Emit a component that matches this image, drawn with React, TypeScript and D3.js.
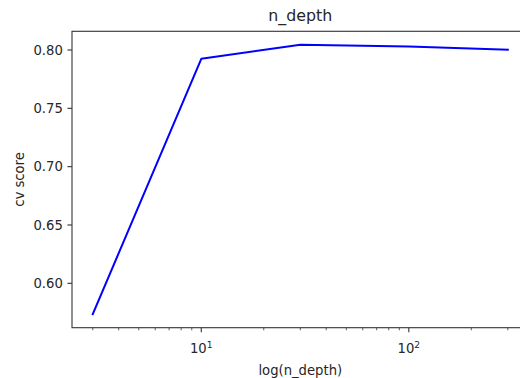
import React from "react";
import * as d3 from "d3";

const depths = [3, 10, 30, 100, 300];
const cvScores = [0.5735, 0.7925, 0.8045, 0.803, 0.8002];
const yTicks = [0.6, 0.65, 0.7, 0.75, 0.8];
const xMajorTicks = [10, 100];
const xMajorExp = ["1", "2"];
const title = "n_depth";
const xLabel = "log(n_depth)";
const yLabel = "cv score";

const W = 520;
const H = 378;
const left = 72;
const right = 528.6;
const top = 31.3;
const bottom = 327.7;
const FONT = "DejaVu Sans, sans-serif";
const TXT = "#262626";

export default function App() {
  const lmin = Math.log10(d3.min(depths)!);
  const lmax = Math.log10(d3.max(depths)!);
  const lm = (lmax - lmin) * 0.05;
  const x = d3
    .scaleLog()
    .domain([Math.pow(10, lmin - lm), Math.pow(10, lmax + lm)])
    .range([left, right]);
  const ymin = d3.min(cvScores)!;
  const ymax = d3.max(cvScores)!;
  const ym = (ymax - ymin) * 0.05;
  const y = d3
    .scaleLinear()
    .domain([ymin - ym, ymax + ym])
    .range([bottom, top]);

  const [d0, d1] = x.domain();
  const minor: number[] = [];
  for (let e = Math.floor(Math.log10(d0)); e <= Math.ceil(Math.log10(d1)); e++) {
    for (let m = 2; m <= 9; m++) {
      const v = m * Math.pow(10, e);
      if (v >= d0 && v <= d1) minor.push(v);
    }
  }

  const line = d3
    .line<number>()
    .x((_, i) => x(depths[i]))
    .y((d) => y(d));

  return (
    <svg
      width={W}
      height={H}
      style={{ position: "absolute", left: 0, top: 0, background: "#fff" }}
      fontFamily={FONT}
    >
      <rect x={0} y={0} width={W} height={H} fill="#fff" />
      <path
        d={line(cvScores) || ""}
        fill="none"
        stroke="#0000ff"
        strokeWidth={2}
        strokeLinejoin="round"
        strokeLinecap="square"
      />
      {/* spines */}
      <rect
        x={left}
        y={top}
        width={right - left}
        height={bottom - top}
        fill="none"
        stroke="#333"
        strokeWidth={1.1}
      />
      {/* y ticks */}
      {yTicks.map((t) => (
        <g key={t}>
          <line x1={left - 4.6} x2={left} y1={y(t)} y2={y(t)} stroke="#333" strokeWidth={1.1} />
          <text
            x={left - 9.2}
            y={y(t) + 4.75}
            textAnchor="end"
            fontSize={13.2}
            fill={TXT}
          >
            {t.toFixed(2)}
          </text>
        </g>
      ))}
      {/* x minor ticks */}
      {minor.map((t) => (
        <line
          key={t}
          x1={x(t)}
          x2={x(t)}
          y1={bottom}
          y2={bottom + 2.6}
          stroke="#333"
          strokeWidth={0.8}
        />
      ))}
      {/* x major ticks */}
      {xMajorTicks.map((t, i) => (
        <g key={t}>
          <line x1={x(t)} x2={x(t)} y1={bottom} y2={bottom + 4.6} stroke="#333" strokeWidth={1.1} />
          <text x={x(t)} y={352.7} textAnchor="middle" fontSize={13.2} fill={TXT}>
            10
            <tspan fontSize={9.2} dy={-4.5}>
              {xMajorExp[i]}
            </tspan>
          </text>
        </g>
      ))}
      <text
        x={(left + right) / 2}
        y={21}
        textAnchor="middle"
        fontSize={15.8}
        fill={TXT}
      >
        {title}
      </text>
      <text
        x={(left + right) / 2}
        y={374.5}
        textAnchor="middle"
        fontSize={13.2}
        fill={TXT}
      >
        {xLabel}
      </text>
      <text
        transform={`translate(23.5, ${(top + bottom) / 2}) rotate(-90)`}
        textAnchor="middle"
        fontSize={13.2}
        fill={TXT}
      >
        {yLabel}
      </text>
    </svg>
  );
}
